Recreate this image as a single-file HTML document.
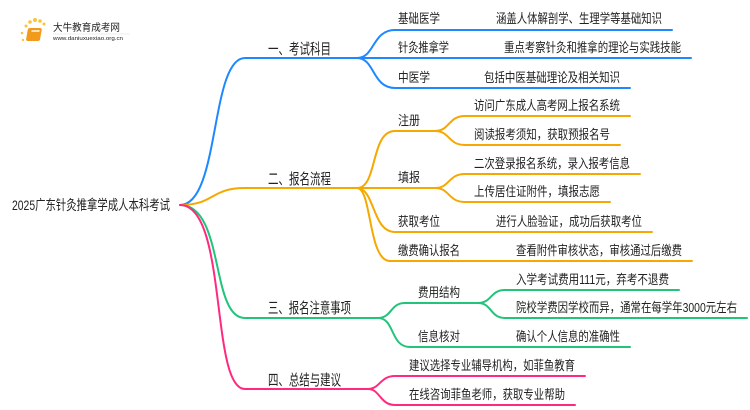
<!DOCTYPE html>
<html><head><meta charset="utf-8"><style>
html,body{margin:0;padding:0;background:#fff;width:750px;height:410px;overflow:hidden}
svg{display:block}
text{font-family:"Liberation Sans","Noto Sans CJK SC",sans-serif;fill:#222}
</style></head><body>
<svg width="750" height="410" viewBox="0 0 750 410">
<g fill="none" stroke-width="2" stroke-linecap="round">
<g stroke="#1e88ff">
<path d="M180 205 C220 205 210 58 245 58 L357 58"/>
<path d="M357 58 C375 58 372 30 395 30 L672 30"/>
<path d="M357 58 L691 58"/>
<path d="M357 58 C375 58 372 88 395 88 L630 88"/>
</g>
<g stroke="#f5a800">
<path d="M180 205 C215 205 210 188 245 188 L357 188"/>
<path d="M357 188 C378 188 370 131 395 131 L435 131"/>
<path d="M435 131 C450 131 448 116 465 116 L630 116"/>
<path d="M435 131 C450 131 448 145 465 145 L620 145"/>
<path d="M357 188 L435 188"/>
<path d="M435 188 C450 188 448 174 465 174 L640 174"/>
<path d="M435 188 C450 188 448 202 465 202 L610 202"/>
<path d="M357 188 C375 188 372 232 395 232 L652 232"/>
<path d="M357 188 C372 188 368 261 390 261 L692 261"/>
</g>
<g stroke="#22c47a">
<path d="M180 205 C225 205 210 318 245 318 L378 318"/>
<path d="M378 318 C392 318 390 303 405 303 L478 303"/>
<path d="M478 303 C492 303 490 290 505 290 L679 290"/>
<path d="M478 303 C492 303 490 318 505 318 L747 318"/>
<path d="M378 318 C395 318 390 347 410 347 L630 347"/>
</g>
<g stroke="#ff2a7f">
<path d="M180 205 C228 205 210 389 245 389 L368 389"/>
<path d="M368 389 C380 389 380 376 395 376 L585 376"/>
<path d="M368 389 C380 389 380 405 395 405 L575 405"/>
</g>
</g>
<g>
<circle cx="26" cy="26" r="1.5" fill="#fbc33a"/><circle cx="30" cy="22" r="1.8" fill="#fbc33a"/><circle cx="35" cy="20" r="2" fill="#fbc33a"/><circle cx="40" cy="21" r="1.8" fill="#fbc33a"/><circle cx="44" cy="24" r="1.5" fill="#fbc33a"/><circle cx="22" cy="33" r="1.3" fill="#fbc33a"/><circle cx="23" cy="40" r="1.2" fill="#fbc33a"/>
<rect x="33" y="28" width="14" height="13" rx="2" fill="#f29a1c" transform="skewX(-10)"/>
<rect x="37" y="30" width="8" height="2" fill="#fff" opacity=".7" transform="skewX(-10)"/>
<text x="53" y="31" font-size="10" fill="#333" textLength="67" lengthAdjust="spacingAndGlyphs">大牛教育成考网</text>
<line x1="53" y1="34" x2="130" y2="34" stroke="#ddd" stroke-width="0.6"/>
<text x="53" y="40" font-size="5" fill="#666" textLength="70" lengthAdjust="spacingAndGlyphs">www.daniuxuexiao.org.cn</text>
</g>
<text x="12" y="210" font-size="14" textLength="158" lengthAdjust="spacingAndGlyphs">2025广东针灸推拿学成人本科考试</text>
<g font-size="15">
<text x="268" y="54" textLength="63" lengthAdjust="spacingAndGlyphs">一、考试科目</text>
<text x="268" y="184" textLength="63" lengthAdjust="spacingAndGlyphs">二、报名流程</text>
<text x="268" y="313" textLength="83" lengthAdjust="spacingAndGlyphs">三、报名注意事项</text>
<text x="268" y="385" textLength="73" lengthAdjust="spacingAndGlyphs">四、总结与建议</text>
</g>
<g font-size="13" lengthAdjust="spacingAndGlyphs">
<text x="398" y="23" textLength="42" lengthAdjust="spacingAndGlyphs">基础医学</text><text x="496" y="23" textLength="166" lengthAdjust="spacingAndGlyphs">涵盖人体解剖学、生理学等基础知识</text>
<text x="398" y="52" textLength="51" lengthAdjust="spacingAndGlyphs">针灸推拿学</text><text x="504" y="52" textLength="177" lengthAdjust="spacingAndGlyphs">重点考察针灸和推拿的理论与实践技能</text>
<text x="398" y="82" textLength="32" lengthAdjust="spacingAndGlyphs">中医学</text><text x="484" y="82" textLength="136" lengthAdjust="spacingAndGlyphs">包括中医基础理论及相关知识</text>
<text x="398" y="125" textLength="22" lengthAdjust="spacingAndGlyphs">注册</text>
<text x="474" y="110" textLength="146" lengthAdjust="spacingAndGlyphs">访问广东成人高考网上报名系统</text>
<text x="474" y="139" textLength="136" lengthAdjust="spacingAndGlyphs">阅读报考须知，获取预报名号</text>
<text x="398" y="182" textLength="22" lengthAdjust="spacingAndGlyphs">填报</text>
<text x="474" y="168" textLength="156" lengthAdjust="spacingAndGlyphs">二次登录报名系统，录入报考信息</text>
<text x="474" y="196" textLength="126" lengthAdjust="spacingAndGlyphs">上传居住证附件，填报志愿</text>
<text x="398" y="226" textLength="42" lengthAdjust="spacingAndGlyphs">获取考位</text><text x="496" y="226" textLength="146" lengthAdjust="spacingAndGlyphs">进行人脸验证，成功后获取考位</text>
<text x="398" y="255" textLength="62" lengthAdjust="spacingAndGlyphs">缴费确认报名</text><text x="516" y="255" textLength="166" lengthAdjust="spacingAndGlyphs">查看附件审核状态，审核通过后缴费</text>
<text x="418" y="297" textLength="42" lengthAdjust="spacingAndGlyphs">费用结构</text>
<text x="516" y="284" textLength="153" lengthAdjust="spacingAndGlyphs">入学考试费用111元，弃考不退费</text>
<text x="516" y="312" textLength="221" lengthAdjust="spacingAndGlyphs">院校学费因学校而异，通常在每学年3000元左右</text>
<text x="418" y="341" textLength="42" lengthAdjust="spacingAndGlyphs">信息核对</text><text x="516" y="341" textLength="104" lengthAdjust="spacingAndGlyphs">确认个人信息的准确性</text>
<text x="409" y="370" textLength="166" lengthAdjust="spacingAndGlyphs">建议选择专业辅导机构，如菲鱼教育</text>
<text x="409" y="399" textLength="156" lengthAdjust="spacingAndGlyphs">在线咨询菲鱼老师，获取专业帮助</text>
</g>
</svg>
</body></html>
